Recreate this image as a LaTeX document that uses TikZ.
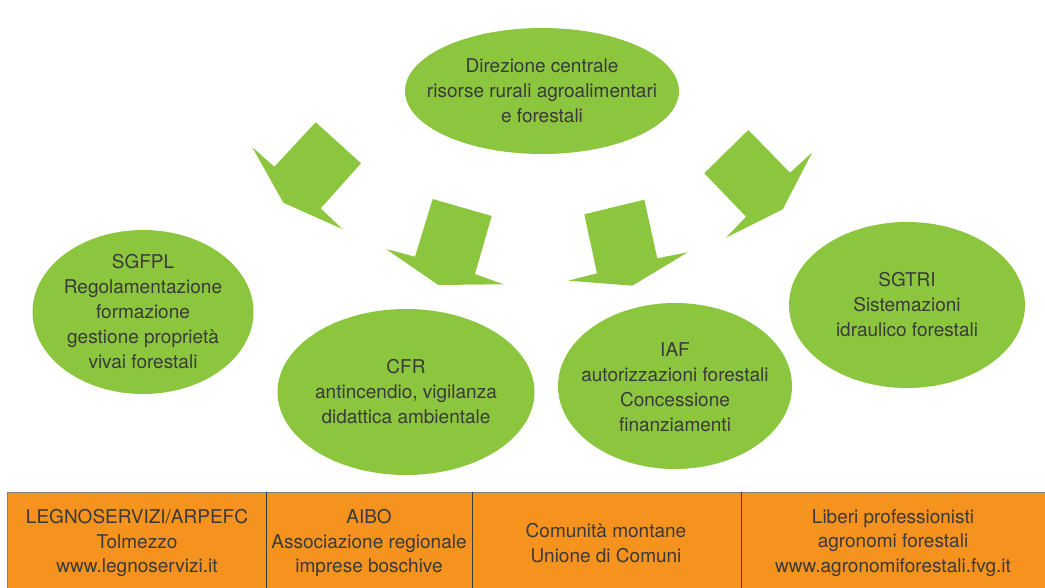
\documentclass[tikz,border=0pt]{standalone}
\usepackage{fontspec}
\setmainfont{TeX Gyre Heros}
\usepackage{tikz}
\usetikzlibrary{shapes.geometric}
\usetikzlibrary{positioning}

\definecolor{leafgreen}{HTML}{8CC63F}
\definecolor{boxorange}{HTML}{F6921E}
\definecolor{inkgray}{HTML}{3A3A3A}

\tikzset{
    office/.style={ellipse, fill=leafgreen, inner sep=0pt},
    officetext/.style={align=center, text=inkgray, font=\fontsize{19}{25}\selectfont},
    partner/.style={align=center, text=inkgray, font=\fontsize{19}{24.5}\selectfont},
    bigarrow/.style={fill=leafgreen, draw=none}
}

\begin{document}
\begin{tikzpicture}[x=1pt, y=-1pt]
    \useasboundingbox (0, 0) rectangle (1045, 588);

    % arrows from the direction
    \fill[bigarrow] (315.7,122.3) -- (361,163.3) -- (320.7,208.3) -- (342.3,229)
        -- (283.3,202.7) -- (252.3,147.3) -- (274.3,166.7) -- cycle;
    \fill[bigarrow] (432.7,199) -- (491.7,216) -- (475,274) -- (503.3,284.3)
        -- (438.3,285) -- (386,249) -- (415,256.7) -- cycle;
    \fill[bigarrow] (584.3,214.3) -- (644.3,199.7) -- (657.3,258.3) -- (687.7,252.3)
        -- (632.3,285.7) -- (568.3,280.7) -- (597,273.3) -- cycle;
    \fill[bigarrow] (748.3,130) -- (790,172.7) -- (812.3,152.3) -- (782.7,209.3)
        -- (726,237.7) -- (746,216.7) -- (704.3,173.3) -- cycle;

    % offices
    \node[office, minimum width=274, minimum height=126] (dir) at (542, 91) {};
    \node[office, minimum width=221, minimum height=164] (sgfpl) at (143, 312) {};
    \node[office, minimum width=257, minimum height=166] (cfr) at (406, 392) {};
    \node[office, minimum width=234, minimum height=166] (iaf) at (675, 386) {};
    \node[office, minimum width=236, minimum height=166] (sgtri) at (907, 305) {};

    \node[officetext] at (dir) {Direzione centrale\\risorse rurali agroalimentari\\e forestali};
    \node[officetext] at (sgfpl) {SGFPL\\Regolamentazione\\formazione\\gestione proprietà\\vivai forestali};
    \node[officetext] at (cfr) {CFR\\antincendio, vigilanza\\didattica ambientale};
    \node[officetext] at ([yshift=-1.5]iaf) {IAF\\autorizzazioni forestali\\Concessione\\finanziamenti};
    \node[officetext] at (sgtri) {SGTRI\\Sistemazioni\\idraulico forestali};

    % partners
    \fill[boxorange] (7, 492) rectangle (1045, 588);
    \draw[gray, line width=0.8pt] (7, 588) -- (7, 492) -- (1045, 492);
    \draw[inkgray, line width=0.7pt] (266, 492) -- (266, 588);
    \draw[inkgray, line width=0.7pt] (472, 492) -- (472, 588);
    \draw[inkgray, line width=0.7pt] (741, 492) -- (741, 588);

    \node[partner] (legno) at (137, 543)
        {LEGNOSERVIZI/ARPEFC\\Tolmezzo\\www.legnoservizi.it};
    \node[partner] (aibo) at (369, 543)
        {AIBO\\Associazione regionale\\imprese boschive};
    \node[partner] (comuni) at (606, 543)
        {Comunità montane\\Unione di Comuni};
    \node[partner] (liberi) at (893, 543)
        {Liberi professionisti\\agronomi forestali\\www.agronomiforestali.fvg.it};
\end{tikzpicture}
\end{document}
